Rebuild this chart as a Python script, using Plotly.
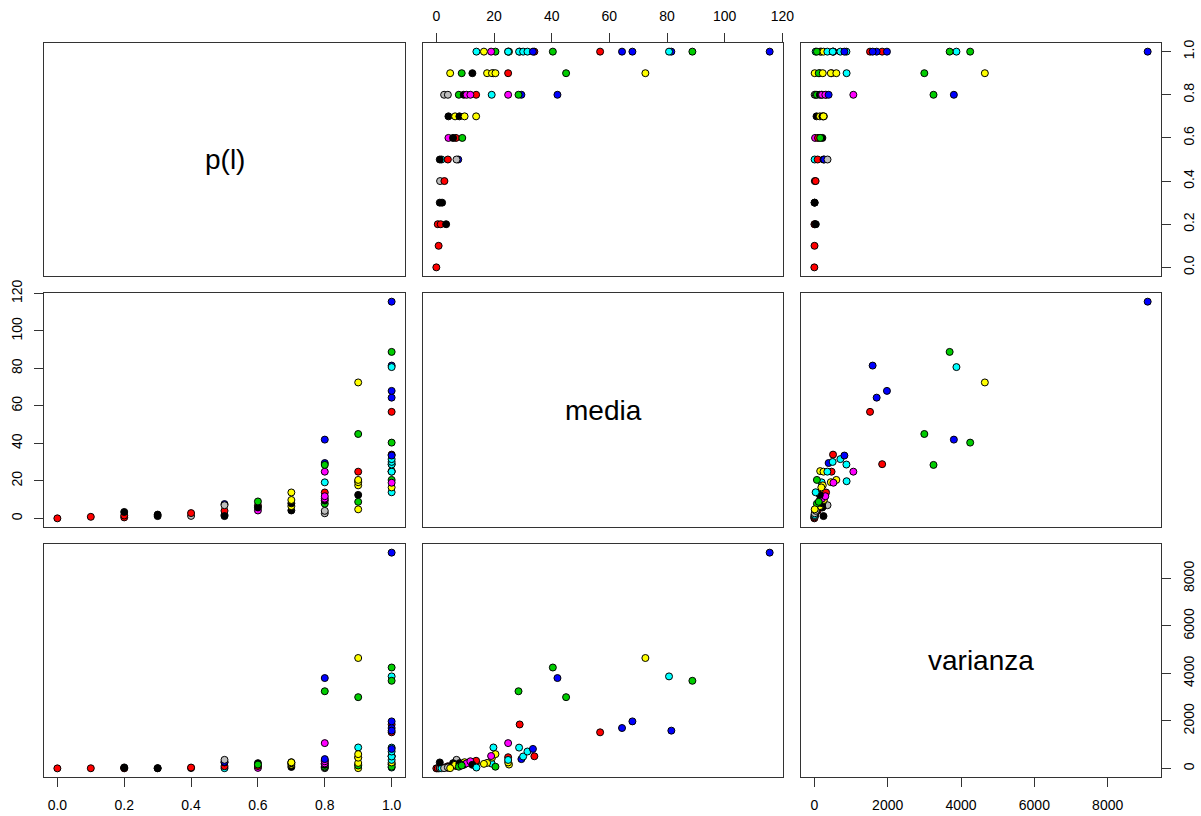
import plotly.graph_objects as go

# Observations: probability level, mean and variance, with group colour
p_l = [
    0.0,
    0.1,
    0.2, 0.2, 0.2,
    0.3, 0.3,
    0.4, 0.4,
    0.5, 0.5, 0.5, 0.5, 0.5,
    0.6, 0.6, 0.6, 0.6,
    0.7, 0.7, 0.7, 0.7, 0.7,
    0.8, 0.8, 0.8, 0.8, 0.8, 0.8, 0.8, 0.8, 0.8, 0.8, 0.8, 0.8,
    0.9, 0.9, 0.9, 0.9, 0.9, 0.9, 0.9, 0.9, 0.9, 0.9,
    1.0, 1.0, 1.0, 1.0, 1.0, 1.0, 1.0, 1.0, 1.0, 1.0,
    1.0, 1.0, 1.0, 1.0, 1.0, 1.0, 1.0, 1.0, 1.0, 1.0, 1.0,
]
media = [
    0.0,
    0.8,
    0.5, 1.5, 3.4,
    1.2, 2.0,
    1.3, 2.8,
    1.8, 4.0, 1.2, 7.6, 7.0,
    4.2, 6.8, 5.8, 9.0,
    4.2, 6.5, 8.0, 9.8, 13.8,
    2.7, 4.0, 7.8, 9.5, 13.8, 19.2, 10.5, 11.8, 29.5, 24.9, 28.5, 42.0,
    12.5, 24.9, 4.8, 8.8, 19.8, 17.6, 19.3, 20.5, 45.0, 72.5,
    34.0, 25.2, 13.9, 16.5, 20.5, 24.9, 24.9, 19.0, 28.9, 28.7,
    30.1, 31.6, 33.5, 40.4, 56.8, 64.4, 68.0, 81.5, 80.7, 88.8, 115.6,
]
varianza = [
    0,
    5,
    2, 15, 40,
    5, 10,
    12, 35,
    8, 90, 250, 270, 360,
    20, 100, 220, 160,
    60, 150, 220, 260, 250,
    10, 40, 70, 150, 320, 200, 210, 300, 390, 1064, 3250, 3805,
    150, 470, 10, 120, 880, 230, 450, 600, 3000, 4650,
    510, 160, 36, 190, 70, 250, 355, 520, 1850, 875,
    500, 710, 820, 4250, 1519, 1700, 1980, 1590, 3875, 3690, 9090,
]
grupo = [
    "red",
    "red",
    "red", "red", "black",
    "black", "black",
    "gray", "red",
    "cyan", "red", "black", "blue", "gray",
    "magenta", "red", "black", "green",
    "black", "yellow", "black", "yellow", "yellow",
    "gray", "gray", "green", "black", "red", "cyan", "magenta", "magenta", "blue", "magenta", "green", "blue",
    "black", "red", "yellow", "green", "cyan", "yellow", "yellow", "yellow", "green", "yellow",
    "red", "yellow", "cyan", "yellow", "green", "yellow", "cyan", "magenta", "red", "cyan",
    "cyan", "cyan", "blue", "green", "red", "blue", "blue", "blue", "cyan", "green", "blue",
]

palette = {
    "black": "#000000", "red": "#FF0000", "green": "#00CD00", "blue": "#0000FF",
    "cyan": "#00FFFF", "magenta": "#FF00FF", "yellow": "#FFFF00", "gray": "#BEBEBE",
}

nombres = ["p(l)", "media", "varianza"]
valores = [p_l, media, varianza]
ticks = [
    [0.0, 0.2, 0.4, 0.6, 0.8, 1.0],
    [0, 20, 40, 60, 80, 100, 120],
    [0, 2000, 4000, 6000, 8000],
]
tick_text = [
    ["0.0", "0.2", "0.4", "0.6", "0.8", "1.0"],
    ["0", "20", "40", "60", "80", "100", "120"],
    ["0", "2000", "4000", "6000", "8000"],
]

W, H = 1201, 816
col_px = [(44, 405), (423, 783), (801, 1161)]
row_px = [(43, 276), (293, 527), (544, 777)]


def padded(vals):
    lo, hi = min(vals), max(vals)
    d = 0.04 * (hi - lo)
    return [lo - d, hi + d]


rangos = [padded(v) for v in valores]
colores = [palette[g] for g in grupo]

# which panels carry labelled axes (row, col)
x_top = {(0, 1)}
x_bottom = {(2, 0), (2, 2)}
y_left = {(1, 0)}
y_right = {(0, 2), (2, 2)}

font = dict(family="Liberation Sans, Arial, sans-serif", size=14, color="#000000")

fig = go.Figure()
layout = dict(
    width=W, height=H,
    margin=dict(l=0, r=0, t=0, b=0, autoexpand=False),
    paper_bgcolor="white", plot_bgcolor="white",
    showlegend=False,
    font=font,
    annotations=[],
)

for r in range(3):
    for c in range(3):
        k = r * 3 + c + 1
        xs = "" if k == 1 else str(k)
        x0, x1 = col_px[c]
        y0, y1 = row_px[r]
        xdom = [x0 / W, x1 / W]
        ydom = [1 - y1 / H, 1 - y0 / H]

        xa = dict(
            domain=xdom, anchor="y" + xs, range=rangos[c], automargin=False,
            showgrid=False, zeroline=False,
            showline=True, mirror=True, linecolor="#333333", linewidth=1,
            tickvals=ticks[c], ticktext=tick_text[c],
            ticks="", showticklabels=False,
            tickfont=font,
        )
        ya = dict(
            domain=ydom, anchor="x" + xs, range=rangos[r], automargin=False,
            showgrid=False, zeroline=False,
            showline=True, mirror=True, linecolor="#333333", linewidth=1,
            tickvals=ticks[r], ticktext=tick_text[r],
            ticks="", showticklabels=False,
            tickfont=font, tickangle=-90,
        )
        if (r, c) in x_top or (r, c) in x_bottom:
            xa.update(side="top" if (r, c) in x_top else "bottom",
                      ticks="outside", ticklen=9, tickwidth=1, tickcolor="#333333",
                      showticklabels=True, ticklabelstandoff=6)
        if (r, c) in y_left or (r, c) in y_right:
            ya.update(side="left" if (r, c) in y_left else "right",
                      ticks="outside", ticklen=9, tickwidth=1, tickcolor="#333333",
                      showticklabels=True, ticklabelstandoff=6)

        layout["xaxis" + xs] = xa
        layout["yaxis" + xs] = ya

        if r == c:
            fig.add_trace(go.Scatter(x=[], y=[], xaxis="x" + xs, yaxis="y" + xs,
                                     mode="markers", hoverinfo="skip"))
            layout["annotations"].append(dict(
                text=nombres[r], xref="x" + xs + " domain", yref="y" + xs + " domain",
                x=0.5, y=0.5, showarrow=False,
                font=dict(family="Liberation Sans, Arial, sans-serif", size=28, color="#000000"),
            ))
        else:
            fig.add_trace(go.Scatter(
                x=valores[c], y=valores[r], xaxis="x" + xs, yaxis="y" + xs,
                mode="markers",
                marker=dict(size=7, color=colores, line=dict(color="#000000", width=1)),
                hoverinfo="skip",
            ))

fig.update_layout(**layout)
fig.write_html("out.html")
